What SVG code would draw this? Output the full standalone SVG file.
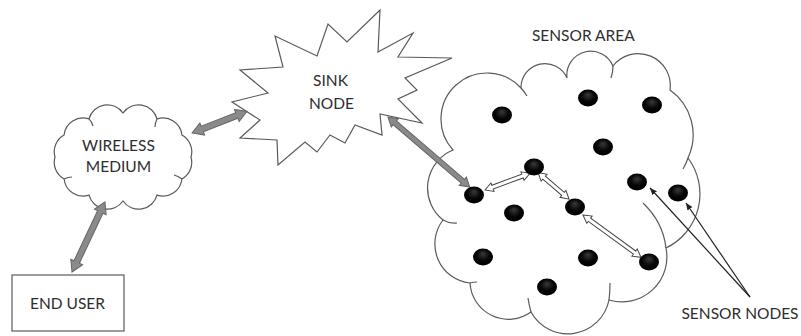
<svg xmlns="http://www.w3.org/2000/svg" width="801" height="336" viewBox="0 0 801 336">
<style>
  .lbl { font-family: Lato, "Liberation Sans", sans-serif; font-size: 15.5px; fill: #2e2e2e; text-anchor: middle; }
  .outline { fill: #fff; stroke: #5a5a5a; stroke-width: 1.2; }
  .tail { fill: none; stroke: #5a5a5a; stroke-width: 1.2; }
  .garrow { fill: #8a8a8a; stroke: #666; stroke-width: 1; }
  .warrow { fill: #fff; stroke: #444; stroke-width: 1; }
  .thin { stroke: #222; stroke-width: 1.2; fill: none; marker-end: url(#ah); }
  .dot { fill: url(#dotg); }
</style>
<defs>
  <radialGradient id="dotg" cx="0.5" cy="0.45" r="0.55" fx="0.5" fy="0.3">
    <stop offset="0" stop-color="#3a3a3a"/>
    <stop offset="0.6" stop-color="#050505"/>
    <stop offset="1" stop-color="#000"/>
  </radialGradient>
  <marker id="ah" markerWidth="8" markerHeight="8" refX="7" refY="4" orient="auto" markerUnits="userSpaceOnUse">
    <path d="M0,1 L7,4 L0,7 Z" fill="#222"/>
  </marker>
</defs>
<rect width="801" height="336" fill="#fff"/>

<g id="end-user">
  <rect x="12" y="275" width="112" height="56" class="outline"/>
  <text x="67.5" y="309" class="lbl">END USER</text>
</g>

<g id="wireless-medium">
  <path class="outline" d="M55,157 A19,19 0 0 1 64.1,135 A19,19 0 0 1 89,118.9 A19,19 0 0 1 123,113 A19,19 0 0 1 157,118.9 A19,19 0 0 1 181.9,135 A19,19 0 0 1 191,157 A19,19 0 0 1 181.9,179 A19,19 0 0 1 157,195.1 A19,19 0 0 1 123,201 A19,19 0 0 1 89,195.1 A19,19 0 0 1 64.1,179 A19,19 0 0 1 55,157 Z"/>
  <path class="tail" d="M89,118.9 Q92,122 93,126 M157,118.9 Q155,123 155,127 M181.9,179 Q178,176 174,175 M64.1,179 Q68,177 72,177"/>
  <text x="118.5" y="150.5" class="lbl">WIRELESS</text>
  <text x="118.5" y="172" class="lbl">MEDIUM</text>
</g>

<g id="sink-node">
  <polygon class="outline" points="380,10 378,52 413,33 398,57 452,58 405,78 417,90 398,99 422,123 380,114 382,135 355,125 345,143 330,135 317,152 305,142 278,165 277,140 240,138 260,120 232,102 268,93 240,70 283,67 275,36 317,56 328,24 347,42"/>
  <text x="330.5" y="86" class="lbl">SINK</text>
  <text x="331.5" y="109" class="lbl">NODE</text>
</g>

<g id="sensor-area">
  <path class="outline" d="M453,150 A46,46 0 0 1 521,88 A24,24 0 0 1 567,78 A24,24 0 0 1 613,66 A32,32 0 0 1 670,90 A55,55 0 0 1 688,158 A60,60 0 0 1 666,248 A45,45 0 0 1 609,300 A42,42 0 0 1 531,312 A38.5,38.5 0 0 1 470,283 A39.3,39.3 0 0 1 443,220 A41,41 0 0 1 453,150 Z"/>
  <path class="tail" d="M521,88 A46,46 0 0 1 527,96 M613,66 Q613,72 611,78 M688,158 Q686,164 683,169 M643,203 Q663,222 666,248 M609,300 Q610,292 610,283 M531,312 Q529,305 528,298 M443,220 Q450,224 457,223 M470,283 Q474,282 477,282"/>
  <text x="583.3" y="40.5" class="lbl">SENSOR AREA</text>
</g>

<g id="sensor-nodes-label">
  <text x="740" y="319" class="lbl">SENSOR NODES</text>
</g>

<g id="connectors">
  <path class="garrow" transform="translate(72,272) rotate(-64.8)" d="M0,0 L11,-6.5 L11,-3 L66.4,-3 L66.4,-6.5 L77.4,0 L66.4,6.5 L66.4,3 L11,3 L11,6.5 Z"/>
  <path class="garrow" transform="translate(192,133) rotate(-21.4)" d="M0,0 L11,-6.5 L11,-3 L48.1,-3 L48.1,-6.5 L59.1,0 L48.1,6.5 L48.1,3 L11,3 L11,6.5 Z"/>
  <path class="garrow" transform="translate(388,117) rotate(40.6)" d="M0,0 L9,-5.5 L9,-2.5 L98.6,-2.5 L98.6,-5.5 L107.6,0 L98.6,5.5 L98.6,2.5 L9,2.5 L9,5.5 Z"/>
  <path class="warrow" transform="translate(485,190) rotate(-20.4)" d="M0,0 L8,-4.5 L8,-2 L40,-2 L40,-4.5 L48,0 L40,4.5 L40,2 L8,2 L8,4.5 Z"/>
  <path class="warrow" transform="translate(538,172.5) rotate(40.6)" d="M0,0 L8,-4.5 L8,-2 L32.9,-2 L32.9,-4.5 L40.9,0 L32.9,4.5 L32.9,2 L8,2 L8,4.5 Z"/>
  <path class="warrow" transform="translate(583,215) rotate(36.1)" d="M0,0 L8,-4.5 L8,-2 L63.8,-2 L63.8,-4.5 L71.8,0 L63.8,4.5 L63.8,2 L8,2 L8,4.5 Z"/>
  <line class="thin" x1="750" y1="297" x2="650" y2="188"/>
  <line class="thin" x1="750" y1="297" x2="686" y2="203"/>
</g>

<g id="sensor-node-1"><ellipse class="dot" cx="502" cy="115" rx="10" ry="8.5"/></g>
<g id="sensor-node-2"><ellipse class="dot" cx="588" cy="98" rx="10" ry="8.5"/></g>
<g id="sensor-node-3"><ellipse class="dot" cx="652" cy="105" rx="10" ry="8.5"/></g>
<g id="sensor-node-4"><ellipse class="dot" cx="603" cy="147" rx="10" ry="8.5"/></g>
<g id="sensor-node-5"><ellipse class="dot" cx="534" cy="167" rx="10" ry="8.5"/></g>
<g id="sensor-node-6"><ellipse class="dot" cx="637" cy="182" rx="10" ry="8.5"/></g>
<g id="sensor-node-7"><ellipse class="dot" cx="678" cy="193" rx="10" ry="8.5"/></g>
<g id="sensor-node-8"><ellipse class="dot" cx="474" cy="195" rx="10" ry="8.5"/></g>
<g id="sensor-node-9"><ellipse class="dot" cx="514" cy="213" rx="10" ry="8.5"/></g>
<g id="sensor-node-10"><ellipse class="dot" cx="575" cy="207" rx="10" ry="8.5"/></g>
<g id="sensor-node-11"><ellipse class="dot" cx="483" cy="257" rx="10" ry="8.5"/></g>
<g id="sensor-node-12"><ellipse class="dot" cx="588" cy="258" rx="10" ry="8.5"/></g>
<g id="sensor-node-13"><ellipse class="dot" cx="649" cy="262" rx="10" ry="8.5"/></g>
<g id="sensor-node-14"><ellipse class="dot" cx="547" cy="287" rx="10" ry="8.5"/></g>
</svg>
